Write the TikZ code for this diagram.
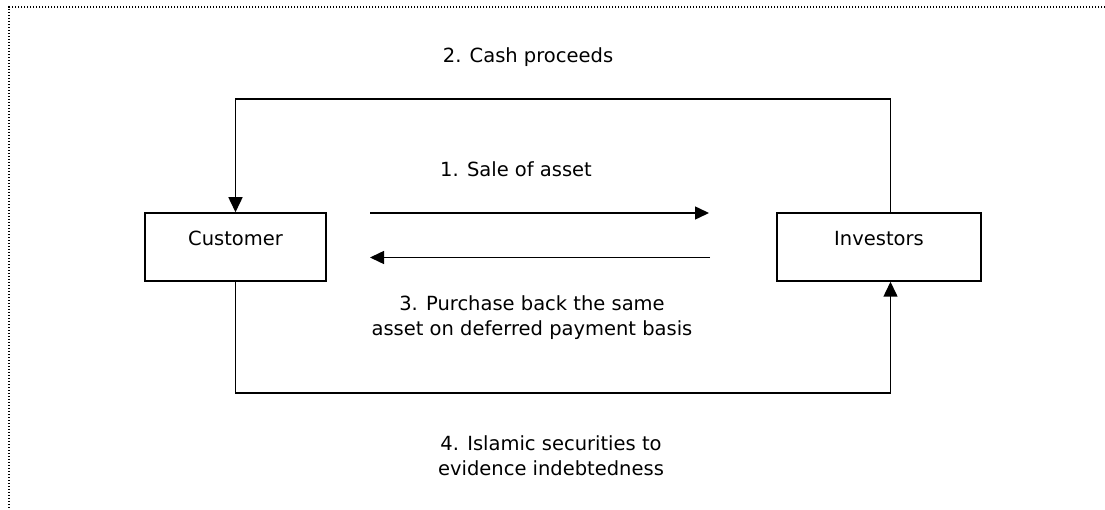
\documentclass[tikz,border=0pt]{standalone}
\usepackage{fontspec}
\setmainfont{DejaVu Sans}
\usetikzlibrary{arrows.meta}
\begin{document}
\begin{tikzpicture}[x=1pt,y=-1pt,
  every node/.style={font=\fontsize{19.5}{25}\selectfont, inner sep=0pt},
  party/.style={draw, line width=1.5pt, minimum height=68pt},
  conn/.style={line width=1.5pt, -{Triangle[length=15pt,width=14pt]}},
  lbl/.style={align=center},
  frame/.style={line width=1.3pt, dash pattern=on 1.3pt off 1.7pt}]
\useasboundingbox (0,0) rectangle (1105,510);
% frame (only top and left edges visible)
\coordinate (fTL) at (9,7);
\coordinate (fTR) at (1105,7);
\coordinate (fBL) at (9,510);
\draw[frame] (fTR) -- (fTL) -- (fBL);
% parties
\node[party, minimum width=181pt] (cust) at (235.5,247) {};
\node[party, minimum width=204pt] (inv) at (879,247) {};
\node[anchor=base] (custtxt) at (235.5,246) {Customer};
\node[anchor=base] (invtxt) at (879,246) {Investors};
% helper coordinates
\coordinate (invN) at ([xshift=11.5pt]inv.north);
\coordinate (invS) at ([xshift=11.5pt]inv.south);
\coordinate (top) at (0,99);
\coordinate (bot) at (0,393);
\coordinate (a1s) at (370,213);
\coordinate (a1e) at (709,213);
\coordinate (a3s) at (710,257.5);
\coordinate (a3e) at (370,257.5);
% connectors
\draw[conn] (invN) |- (top -| cust.north) -- (cust.north);
\draw[conn] (cust.south) |- (bot -| invS) -- (invS);
\draw[conn,-{Triangle[length=14pt,width=13pt]}] (a1s) -- (a1e);
\draw[conn,-{Triangle[length=14pt,width=13pt]}] (a3s) -- (a3e);
% labels
\node[anchor=base] (l2) at (528,63) {2. Cash proceeds};
\node[anchor=base] (l1) at (516,177) {1. Sale of asset};
\node[lbl] (l3) at (532,317.5) {3. Purchase back the same\\asset on deferred payment basis};
\node[lbl] (l4) at (551,456) {4. Islamic securities to\\evidence indebtedness};
\end{tikzpicture}
\end{document}
